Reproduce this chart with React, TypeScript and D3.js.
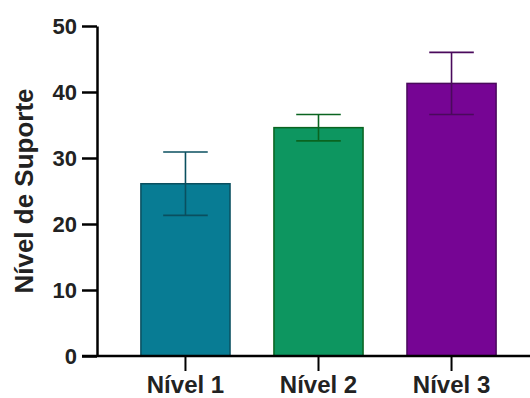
import React, { useEffect, useRef } from 'react';
import * as d3 from 'd3';

// Chart values
const categories = ['Nível 1', 'Nível 2', 'Nível 3'];
const means = [26.1, 34.6, 41.3];
const errors = [4.8, 2.0, 4.7];
const yTicks = [0, 10, 20, 30, 40, 50];
const fills = ['#087c94', '#0d9660', '#760594'];
const strokes = ['#0a4f5f', '#0a6420', '#4a0a5c'];

const width = 530;
const height = 398;

const App = () => {
  const svgRef = useRef<SVGSVGElement>(null);

  useEffect(() => {
    const svg = d3.select(svgRef.current);
    svg.selectAll('*').remove();

    const font = '"Liberation Sans", Arial, sans-serif';

    const xScale = d3.scaleBand()
      .domain(categories)
      .range([97, 540])
      .paddingInner(0.33)
      .paddingOuter(0.33);

    const yScale = d3.scaleLinear()
      .domain([0, 50])
      .range([356, 26]);

    const data = categories.map((c, i) => ({ c, mean: means[i], err: errors[i], i }));

    // Bars
    svg.selectAll('rect.bar')
      .data(data)
      .enter().append('rect')
      .attr('class', 'bar')
      .attr('x', d => xScale(d.c)!)
      .attr('y', d => yScale(d.mean))
      .attr('width', xScale.bandwidth())
      .attr('height', d => yScale(0) - yScale(d.mean))
      .attr('fill', d => fills[d.i])
      .attr('stroke', d => strokes[d.i])
      .attr('stroke-width', 1.5);

    // Error bars
    const capHalf = xScale.bandwidth() / 4;
    const eb = svg.selectAll('g.err')
      .data(data)
      .enter().append('g')
      .attr('class', 'err')
      .attr('stroke', d => strokes[d.i])
      .attr('stroke-width', 1.6);

    eb.append('line')
      .attr('x1', d => xScale(d.c)! + xScale.bandwidth() / 2)
      .attr('x2', d => xScale(d.c)! + xScale.bandwidth() / 2)
      .attr('y1', d => yScale(d.mean + d.err))
      .attr('y2', d => yScale(d.mean - d.err));

    eb.append('line')
      .attr('x1', d => xScale(d.c)! + xScale.bandwidth() / 2 - capHalf)
      .attr('x2', d => xScale(d.c)! + xScale.bandwidth() / 2 + capHalf)
      .attr('y1', d => yScale(d.mean + d.err))
      .attr('y2', d => yScale(d.mean + d.err));

    eb.append('line')
      .attr('x1', d => xScale(d.c)! + xScale.bandwidth() / 2 - capHalf)
      .attr('x2', d => xScale(d.c)! + xScale.bandwidth() / 2 + capHalf)
      .attr('y1', d => yScale(d.mean - d.err))
      .attr('y2', d => yScale(d.mean - d.err));

    // Y axis
    const yAxis = svg.append('g')
      .attr('transform', 'translate(97, 0)')
      .call(d3.axisLeft(yScale).tickValues(yTicks).tickSize(15).tickPadding(5).tickSizeOuter(0));
    yAxis.select('.domain').attr('stroke', '#000').attr('stroke-width', 2.5);
    yAxis.selectAll('.tick line').attr('stroke', '#000').attr('stroke-width', 2.5);
    yAxis.selectAll('.tick text')
      .attr('fill', '#222')
      .style('font-family', font)
      .style('font-weight', 'bold')
      .style('font-size', '22px');

    // X axis
    const xAxis = svg.append('g')
      .attr('transform', `translate(0, ${yScale(0)})`)
      .call(d3.axisBottom(xScale).tickSize(15).tickPadding(5).tickSizeOuter(0));
    xAxis.select('.domain')
      .attr('d', `M82,0H${width}`)
      .attr('stroke', '#000')
      .attr('stroke-width', 2.5);
    xAxis.selectAll('.tick line').attr('stroke', '#000').attr('stroke-width', 2);
    xAxis.selectAll('.tick text')
      .attr('fill', '#222')
      .style('font-family', font)
      .style('font-weight', 'bold')
      .style('font-size', '24px');

    // Y axis label
    svg.append('text')
      .attr('transform', 'rotate(-90)')
      .attr('x', -191)
      .attr('y', 33)
      .attr('text-anchor', 'middle')
      .attr('fill', '#222')
      .style('font-family', font)
      .style('font-weight', 'bold')
      .style('font-size', '26px')
      .text('Nível de Suporte');
  }, []);

  return (
    <svg
      ref={svgRef}
      width={width}
      height={height}
      style={{ position: 'absolute', left: 0, top: 0, background: '#fff' }}
    />
  );
};

export default App;
